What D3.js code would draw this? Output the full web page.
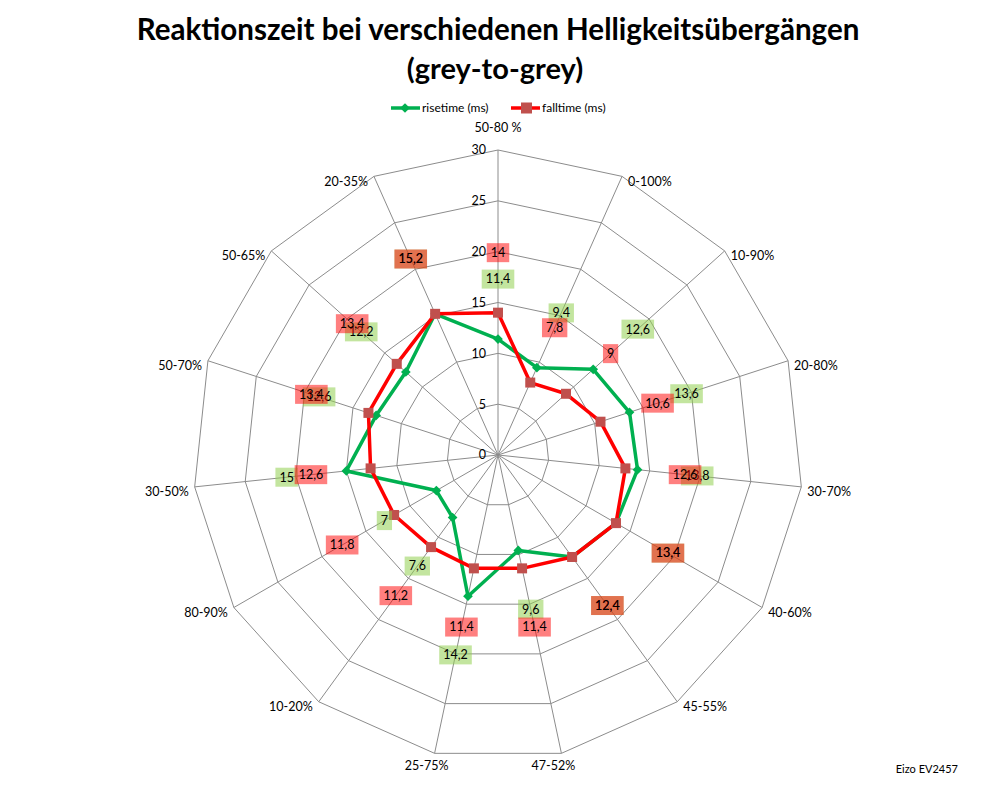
<!DOCTYPE html>
<html>
<head>
<meta charset="utf-8">
<script src="https://cdn.jsdelivr.net/npm/d3@7"></script>
<style>
  body { margin: 0; background: #fff; }
  text { font-family: Lato, "Open Sans", sans-serif; fill: #000; }
</style>
</head>
<body>
<svg id="chart" width="998" height="786"></svg>
<script>
// data
let categories = ["50-80 %", "0-100%", "10-90%", "20-80%", "30-70%", "40-60%", "45-55%", "47-52%",
                  "25-75%", "10-20%", "80-90%", "30-50%", "50-70%", "50-65%", "20-35%"]
let risetime = [11.4, 9.4, 12.6, 13.6, 13.8, 13.4, 12.4, 9.6, 14.2, 7.6, 7, 15, 12.6, 12.2, 15.2]
let falltime = [14, 7.8, 9, 10.6, 12.6, 13.4, 12.4, 11.4, 11.4, 11.2, 11.8, 12.6, 13.4, 13.4, 15.2]
let ticks = [0, 5, 10, 15, 20, 25, 30]
let seriesNames = ["risetime (ms)", "falltime (ms)"]

let svg = d3.select("#chart")

//Set center and radius
let cx = 498, cy = 455
let radius = 305

let rscale = d3.scaleLinear().domain([0, 30]).range([0, radius])
let ascale = d3.scaleLinear().domain([0, categories.length]).range([0, 2 * Math.PI])

function pt(i, r) {
  let a = ascale(i)
  return [cx + r * Math.sin(a), cy - r * Math.cos(a)]
}
let fmt = v => String(v).replace(".", ",")

//Title
svg.append("text")
  .attr("x", 498).attr("y", 40)
  .attr("text-anchor", "middle")
  .style("font-weight", "bold").style("font-size", "29px")
  .text("Reaktionszeit bei verschiedenen Helligkeitsübergängen")
  .each(function() {
    // squeeze to the width of the original title
    let w = this.getComputedTextLength()
    d3.select(this).style("font-size", (29 * 723 / w) + "px")
  })
svg.append("text")
  .attr("x", 495).attr("y", 79)
  .attr("text-anchor", "middle")
  .style("font-weight", "bold").style("font-size", "29px")
  .text("(grey-to-grey)")

//Grid rings
let grid = svg.append("g")
grid.selectAll("polygon")
  .data(ticks.slice(1))
  .enter()
  .append("polygon")
  .attr("points", t => categories.map((c, i) => pt(i, rscale(t)).join(",")).join(" "))
  .attr("fill", "none")
  .attr("stroke", "#8c8c8c")
  .attr("stroke-width", 1)

//Spokes
grid.selectAll("line")
  .data(categories)
  .enter()
  .append("line")
  .attr("x1", cx).attr("y1", cy)
  .attr("x2", (c, i) => pt(i, radius)[0])
  .attr("y2", (c, i) => pt(i, radius)[1])
  .attr("stroke", "#8c8c8c")
  .attr("stroke-width", 1)

//Tick labels
svg.append("g").selectAll("text")
  .data(ticks)
  .enter()
  .append("text")
  .attr("x", cx - 12)
  .attr("y", t => cy - rscale(t))
  .attr("dy", "0.35em")
  .attr("text-anchor", "end")
  .style("font-size", "12.5px")
  .text(t => t)

//Category labels
svg.append("g").selectAll("text")
  .data(categories)
  .enter()
  .append("text")
  .each(function(c, i) {
    let a = ascale(i)
    let s = Math.sin(a), co = Math.cos(a)
    let [vx, vy] = pt(i, radius)
    let anchor = "middle", x = vx, y = vy + 5
    if (s > 0.25) { anchor = "start"; x = vx + 6 }
    else if (s < -0.25) { anchor = "end"; x = vx - 6 }
    if (co > 0.95) y = vy - 22
    else if (co < -0.95) { y = vy + 12; x = vx - 8 }
    d3.select(this)
      .attr("x", x).attr("y", y)
      .attr("dy", "0.35em")
      .attr("text-anchor", anchor)
  })
  .style("font-size", "12.5px")
  .text(c => c)

//Series lines
let line = d3.line()
  .x((v, i) => pt(i, rscale(v))[0])
  .y((v, i) => pt(i, rscale(v))[1])
  .curve(d3.curveLinearClosed)

svg.append("path")
  .datum(risetime)
  .attr("d", line)
  .attr("fill", "none")
  .attr("stroke", "#00b050")
  .attr("stroke-width", 3.5)
  .attr("stroke-linejoin", "round")

svg.append("g").selectAll("path")
  .data(risetime)
  .enter()
  .append("path")
  .attr("d", d3.symbol(d3.symbolDiamond2, 60))
  .attr("transform", (v, i) => "translate(" + pt(i, rscale(v)) + ")")
  .attr("fill", "#00b050")

svg.append("path")
  .datum(falltime)
  .attr("d", line)
  .attr("fill", "none")
  .attr("stroke", "#ff0000")
  .attr("stroke-width", 3.5)
  .attr("stroke-linejoin", "round")

svg.append("g").selectAll("rect")
  .data(falltime)
  .enter()
  .append("rect")
  .attr("x", (v, i) => pt(i, rscale(v))[0] - 5)
  .attr("y", (v, i) => pt(i, rscale(v))[1] - 5)
  .attr("width", 10).attr("height", 10)
  .attr("fill", "#c0504d")

//Data labels, pushed 60px outward from the point
function addLabels(values, fill) {
  let g = svg.append("g")
  let lab = g.selectAll("g")
    .data(values)
    .enter()
    .append("g")
    .attr("transform", (v, i) => "translate(" + pt(i, rscale(v) + 60) + ")")
  lab.append("text")
    .attr("text-anchor", "middle")
    .attr("dy", "0.35em")
    .style("font-size", "12.5px")
    .text(v => fmt(v))
  lab.insert("rect", "text")
    .each(function() {
      let w = this.parentNode.querySelector("text").getComputedTextLength() + 8
      d3.select(this)
        .attr("x", -w / 2).attr("y", -9.5)
        .attr("width", w).attr("height", 19)
    })
    .attr("fill", fill)
}
addLabels(risetime, "rgba(146,208,80,0.55)")
addLabels(falltime, "rgba(255,0,0,0.5)")

//Legend
let legend = svg.append("g").attr("transform", "translate(0,108)")
legend.append("line")
  .attr("x1", 391).attr("x2", 420)
  .attr("stroke", "#00b050").attr("stroke-width", 3.5)
legend.append("path")
  .attr("d", d3.symbol(d3.symbolDiamond2, 60))
  .attr("transform", "translate(405,0)")
  .attr("fill", "#00b050")
legend.append("text")
  .attr("x", 422).attr("dy", "0.35em")
  .style("font-size", "12px")
  .text(seriesNames[0])
legend.append("line")
  .attr("x1", 511).attr("x2", 540)
  .attr("stroke", "#ff0000").attr("stroke-width", 3.5)
legend.append("rect")
  .attr("x", 521).attr("y", -5.5)
  .attr("width", 11).attr("height", 11)
  .attr("fill", "#c0504d")
legend.append("text")
  .attr("x", 542).attr("dy", "0.35em")
  .style("font-size", "12px")
  .text(seriesNames[1])

//Footnote
svg.append("text")
  .attr("x", 958).attr("y", 773)
  .attr("text-anchor", "end")
  .style("font-size", "11px")
  .text("Eizo EV2457")
</script>
</body>
</html>
